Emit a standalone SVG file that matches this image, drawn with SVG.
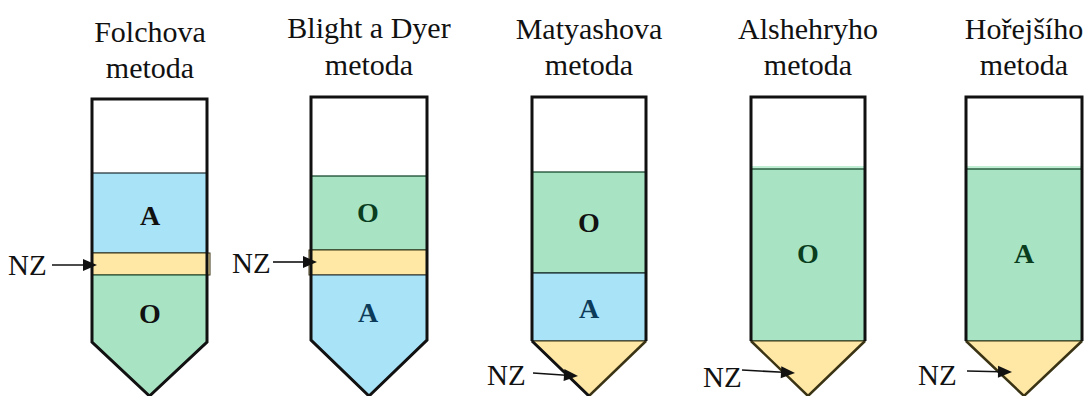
<svg xmlns="http://www.w3.org/2000/svg" width="1088" height="396" viewBox="0 0 1088 396">
<defs>
<style>
text{font-family:'Liberation Serif','DejaVu Serif',serif}
.title{font-size:30px;fill:#111;text-anchor:middle}
.nz{font-size:29px;fill:#111}
.lab{font-size:28px;font-weight:bold;text-anchor:middle}
.blue{fill:#a9e3f8;stroke:#1d2a30;stroke-width:1.2}
.green{fill:#a8e4c4;stroke:#0b3d20;stroke-width:1.2}
.yellow{fill:#ffe8a6;stroke:#3a3314;stroke-width:1}
.out{fill:none;stroke:#111;stroke-width:3;stroke-linejoin:miter}
.chev{fill:none;stroke:#3a3314;stroke-width:2.5}
.arr{stroke:#111;stroke-width:1.6;fill:none}
.head{fill:#111;stroke:none}
</style>
</defs>

<g id="tube-folch">
<text class="title" x="150" y="42">Folchova</text>
<text class="title" x="150" y="78">metoda</text>
<rect x="92" y="99" width="115" height="74" fill="#fff"/>
<rect class="blue" x="92" y="173" width="115" height="80"/>
<rect class="yellow" x="92" y="253" width="118" height="22" stroke="none"/>
<path class="green" d="M92,275 H207 V342 L149.5,396 L92,342 Z"/>
<path class="out" d="M92,99 H207 V342 L149.5,396 L92,342 Z"/>
<text class="lab" x="150" y="225" fill="#111">A</text>
<text class="lab" x="150" y="323" fill="#111">O</text>
<text class="nz" x="8" y="275">NZ</text>
</g>

<g id="tube-blight">
<text class="title" x="369" y="38">Blight a Dyer</text>
<text class="title" x="369" y="75">metoda</text>
<rect x="311" y="97" width="116" height="79" fill="#fff"/>
<rect class="green" x="311" y="176" width="116" height="74"/>
<rect class="yellow" x="309" y="250" width="118" height="25" stroke="none"/>
<path class="blue" d="M311,275 H427 V340 L369,396 L311,340 Z"/>
<path class="out" d="M311,97 H427 V340 L369,396 L311,340 Z"/>
<text class="lab" x="368" y="222" fill="#0a3d1e">O</text>
<text class="lab" x="368" y="322" fill="#0d3b5a">A</text>
<text class="nz" x="232" y="273">NZ</text>
</g>

<g id="tube-matyash">
<text class="title" x="589" y="39">Matyashova</text>
<text class="title" x="589" y="75">metoda</text>
<rect x="532" y="97" width="114" height="75" fill="#fff"/>
<rect class="green" x="532" y="172" width="114" height="101"/>
<rect class="blue" x="532" y="273" width="114" height="68"/>
<path class="yellow" d="M532,341 H646 L589,396 Z" stroke="none"/>
<path class="chev" d="M646,341 L589,396"/>
<path class="out" d="M532,341 V97 H646 V341 M532,341 L589,396"/>
<text class="lab" x="589" y="232" fill="#111">O</text>
<text class="lab" x="589" y="318" fill="#0d3b5a">A</text>
<text class="nz" x="487" y="385">NZ</text>
</g>

<g id="tube-alshehry">
<text class="title" x="808" y="39">Alshehryho</text>
<text class="title" x="808" y="75">metoda</text>
<rect x="751" y="97" width="114" height="72" fill="#fff"/>
<rect x="752" y="166" width="112" height="3" fill="#bfeed4"/>
<rect class="green" x="751" y="169" width="114" height="172"/>
<path class="yellow" d="M751,341 H865 L808,396 Z" stroke="none"/>
<path class="chev" d="M751,341 L808,396 L865,341"/>
<path class="out" d="M751,341 V97 H865 V341"/>
<text class="lab" x="808" y="263" fill="#0a3d1e">O</text>
<text class="nz" x="703" y="387">NZ</text>
</g>

<g id="tube-horejsi">
<text class="title" x="1024" y="39">Hořejšího</text>
<text class="title" x="1024" y="75">metoda</text>
<rect x="966" y="97" width="116" height="72" fill="#fff"/>
<rect x="967" y="166" width="114" height="3" fill="#bfeed4"/>
<rect class="green" x="966" y="169" width="116" height="172"/>
<path class="yellow" d="M966,341 H1082 L1024,396 Z" stroke="none"/>
<path class="chev" d="M966,341 L1024,396 L1082,341"/>
<path class="out" d="M966,341 V97 H1082 V341"/>
<text class="lab" x="1024" y="263" fill="#0a3d1e">A</text>
<text class="nz" x="918" y="385">NZ</text>
</g>

<g id="connectors">
<path class="arr" d="M52,265 H85"/>
<polygon class="head" points="97,265 83,259 83,271"/>
<path class="arr" d="M273,262 H305"/>
<polygon class="head" points="317,262 303,256 303,268"/>
<path class="arr" d="M533,373 L566,375.2"/>
<polygon class="head" points="578,376 564.4,369.1 563.6,381.1"/>
<path class="arr" d="M742,370 L783,372.3"/>
<polygon class="head" points="795,373 781.3,366.2 780.7,378.2"/>
<path class="arr" d="M967,371 L1000,371.7"/>
<polygon class="head" points="1012,372 998.1,365.7 997.9,377.7"/>
</g>
</svg>
